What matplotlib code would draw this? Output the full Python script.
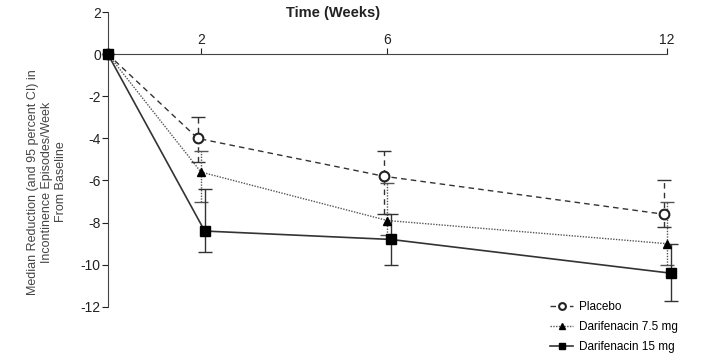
import matplotlib
matplotlib.use("Agg")
import matplotlib.pyplot as plt
import numpy as np
from matplotlib import font_manager

# pick a condensed sans if one is there
names = {f.name for f in font_manager.fontManager.ttflist}
fam = 'Liberation Sans Narrow' if 'Liberation Sans Narrow' in names else 'Liberation Sans'
plt.rcParams['font.family'] = [fam, 'DejaVu Sans']
plt.rcParams['axes.unicode_minus'] = False

weeks = [0, 2, 6, 12]

placebo = [0, -4.0, -5.8, -7.6]
placebo_hi = [0, -3.0, -4.6, -6.0]
placebo_lo = [0, -5.1, -7.6, -8.2]

dar75 = [0, -5.6, -7.9, -9.0]
dar75_hi = [0, -4.6, -6.1, -7.0]
dar75_lo = [0, -7.0, -8.6, -10.0]

dar15 = [0, -8.4, -8.8, -10.4]
dar15_hi = [0, -6.4, -7.6, -9.0]
dar15_lo = [0, -9.4, -10.0, -11.7]

labels = ['Placebo', 'Darifenacin 7.5 mg', 'Darifenacin 15 mg']

fig = plt.figure(figsize=(7.14, 3.64), dpi=100)
ax = fig.add_axes([0.151, 0.157, 0.783, 0.810])

series = [
    (placebo, placebo_hi, placebo_lo, -0.07, dict(ls=(0, (4, 3)), color='#333333', lw=1.0,
                                                  marker='o', mfc='white', mec='#222222', ms=7, mew=1.5)),
    (dar75, dar75_hi, dar75_lo, 0.0, dict(ls=(0, (1, 1)), color='#555555', lw=1.0,
                                          marker='^', mfc='black', mec='black', ms=6)),
    (dar15, dar15_hi, dar15_lo, 0.08, dict(ls='-', color='#333333', lw=1.2,
                                           marker='s', mfc='black', mec='black', ms=7)),
]

handles = []
for vals, hi, lo, off, st in series:
    x = np.array(weeks, dtype=float)
    x[1:] += off
    v = np.array(vals)
    yerr = np.array([v - np.array(lo), np.array(hi) - v])
    eb = ax.errorbar(x[1:], v[1:], yerr=yerr[:, 1:], fmt='none', ecolor=st['color'],
                     elinewidth=1.0, capsize=5, capthick=1.0, clip_on=False)
    for c in eb[2]:
        c.set_linestyle(st['ls'])
    line, = ax.plot(x, v, clip_on=False, zorder=3, **st)
    handles.append(line)

ax.set_xlim(0, 12)
ax.set_ylim(-12, 2)
ax.set_yticks(np.arange(-12, 3, 2))
ax.set_xticks([2, 6, 12])

ax.spines['bottom'].set_visible(False)
ax.spines['right'].set_visible(False)
ax.spines['top'].set_position(('data', 0))
ax.spines['top'].set_color('#444444')
ax.spines['left'].set_color('#444444')
ax.xaxis.set_ticks_position('top')
ax.xaxis.set_label_position('top')
ax.tick_params(axis='x', direction='out', length=4, pad=1, labelsize=10, colors='#222222')
ax.tick_params(axis='y', direction='out', length=4, pad=1, labelsize=10, colors='#222222')

fig.text(0.467, 0.965, 'Time (Weeks)', ha='center', va='center', fontsize=10.5,
         fontweight='bold', color='#222222')
fig.text(0.066, 0.50, 'Median Reduction (and 95 percent CI) in\nIncontinence Episodes/Week\nFrom Baseline',
         rotation=90, ha='center', va='center', fontsize=9, color='#444444', linespacing=1.25)

fig.legend(handles, labels, loc='lower left', bbox_to_anchor=(0.755, 0.0), frameon=False,
           fontsize=8.5, handlelength=2.0, labelspacing=0.7, handletextpad=0.5, markerscale=0.7)

fig.savefig('out.png', dpi=100)
